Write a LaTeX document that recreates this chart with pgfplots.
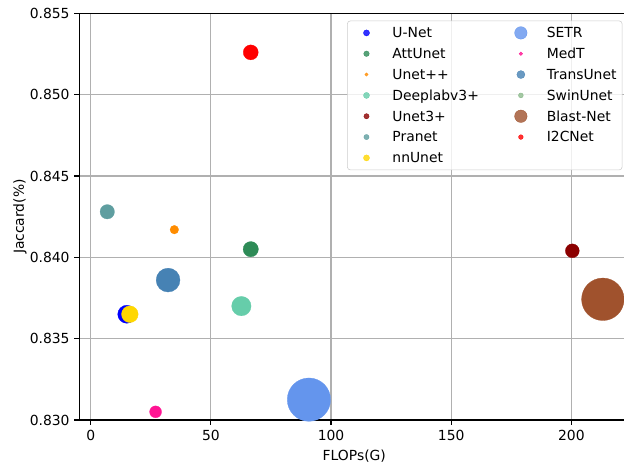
\documentclass[border=0pt]{standalone}
\usepackage{pgfplots}
\pgfplotsset{compat=1.18}
\usepackage{fontspec}
\setmainfont{DejaVu Sans}
\definecolor{cUNet}{RGB}{0,0,255}
\definecolor{cAtt}{RGB}{46,139,87}
\definecolor{cUpp}{RGB}{255,140,0}
\definecolor{cDeep}{RGB}{102,205,170}
\definecolor{cU3}{RGB}{139,0,0}
\definecolor{cPra}{RGB}{95,158,160}
\definecolor{cnn}{RGB}{255,215,0}
\definecolor{cSETR}{RGB}{100,149,237}
\definecolor{cMedT}{RGB}{255,20,147}
\definecolor{cTrans}{RGB}{70,130,180}
\definecolor{cSwin}{RGB}{143,188,143}
\definecolor{cBlast}{RGB}{160,82,45}
\definecolor{cI2C}{RGB}{255,0,0}
\definecolor{gridc}{RGB}{176,176,176}
\begin{document}
\begin{tikzpicture}
\begin{axis}[
  scale only axis, width=396pt, height=292.8pt,
  xmin=-4.74, xmax=224.1, ymin=0.830, ymax=0.855,
  xtick={0,50,100,150,200},
  ytick={0.830,0.835,0.840,0.845,0.850,0.855},
  scaled y ticks=false,
  yticklabel style={/pgf/number format/.cd, fixed, fixed zerofill, precision=3},
  /pgf/number format/assume math mode=true,
  tick label style={font=\fontsize{10}{12}\selectfont},
  xtick pos=bottom, ytick pos=left,
  tick align=outside, major tick length=3.5pt,
  every tick/.style={black, line width=0.8pt},
  axis line style={black, line width=0.8pt},
  grid=major, major grid style={gridc, line width=0.8pt},
  axis on top,
  xlabel={FLOPs(G)}, ylabel={Jaccard(\%)},
  label style={font=\fontsize{10}{12}\selectfont},
  ylabel style={at={(rel axis cs:0,0.5)}, anchor=south, inner sep=0pt, yshift=37.7pt},
  legend columns=2, legend cell align=left,
  legend style={at={(1,1)}, anchor=north east, xshift=-5pt, yshift=-5.3pt,
    draw=black!20, rounded corners=2pt, fill=white, fill opacity=0.8, text opacity=1,
    inner xsep=2pt, inner ysep=1.1pt, row sep=0pt,
    font=\fontsize{10}{12}\selectfont,
    nodes={inner sep=2pt, text height=9pt, text depth=2pt},
    /tikz/every odd column/.append style={column sep=12.7pt},
    /tikz/every even column/.append style={column sep=16.5pt}},
  legend image code/.code={\pgfpathmoveto{\pgfpoint{0pt}{0pt}}\pgfpathlineto{\pgfpoint{15.7pt}{0pt}}\pgfusepath{discard}\draw[overlay,#1] plot coordinates {(11.7pt,0pt)};},
]
\addplot[only marks, mark=*, color=cUNet, mark size=6.5pt, mark options={line width=0.2pt}, legend image post style={mark size=2.2pt}] coordinates {(15.0,0.8365)};
\addlegendentry{U-Net}
\addplot[only marks, mark=*, color=cSETR, mark size=15.6pt, mark options={line width=0.2pt}, legend image post style={mark size=4.5pt}] coordinates {(90.8,0.83125)};
\addlegendentry{SETR}
\addplot[only marks, mark=*, color=cAtt, mark size=5.5pt, mark options={line width=0.2pt}, legend image post style={mark size=2.0pt}] coordinates {(66.6,0.8405)};
\addlegendentry{AttUnet}
\addplot[only marks, mark=*, color=cMedT, mark size=4.3pt, mark options={line width=0.2pt}, legend image post style={mark size=1.3pt}] coordinates {(27.0,0.8305)};
\addlegendentry{MedT}
\addplot[only marks, mark=*, color=cUpp, mark size=3.1pt, mark options={line width=0.2pt}, legend image post style={mark size=1.2pt}] coordinates {(34.8,0.8417)};
\addlegendentry{Unet++}
\addplot[only marks, mark=*, color=cTrans, mark size=8.6pt, mark options={line width=0.2pt}, legend image post style={mark size=2.9pt}] coordinates {(32.2,0.8386)};
\addlegendentry{TransUnet}
\addplot[only marks, mark=*, color=cDeep, mark size=7.0pt, mark options={line width=0.2pt}, legend image post style={mark size=2.2pt}] coordinates {(62.7,0.8370)};
\addlegendentry{Deeplabv3+}
\addlegendimage{only marks, mark=*, color=cSwin, mark size=1.7pt}
\addlegendentry{SwinUnet}
\addplot[only marks, mark=*, color=cU3, mark size=5.0pt, mark options={line width=0.2pt}, legend image post style={mark size=1.9pt}] coordinates {(200.4,0.8404)};
\addlegendentry{Unet3+}
\addplot[only marks, mark=*, color=cBlast, mark size=15.3pt, mark options={line width=0.2pt}, legend image post style={mark size=4.5pt}] coordinates {(213.1,0.83742)};
\addlegendentry{Blast-Net}
\addplot[only marks, mark=*, color=cPra, mark size=5.2pt, mark options={line width=0.2pt}, legend image post style={mark size=1.9pt}] coordinates {(6.9,0.8428)};
\addlegendentry{Pranet}
\addplot[only marks, mark=*, color=cI2C, mark size=5.4pt, mark options={line width=0.2pt}, legend image post style={mark size=1.7pt}] coordinates {(66.6,0.8526)};
\addlegendentry{I2CNet}
\addplot[only marks, mark=*, color=cnn, mark size=6.0pt, mark options={line width=0.2pt}, legend image post style={mark size=2.2pt}] coordinates {(16.3,0.8365)};
\addlegendentry{nnUnet}
\end{axis}
\pgfresetboundingbox
\useasboundingbox ([xshift=-57.1pt,yshift=-33.1pt]current axis.south west) rectangle ([xshift=-3.8pt,yshift=9.6pt]current axis.north east);
\end{tikzpicture}
\end{document}
